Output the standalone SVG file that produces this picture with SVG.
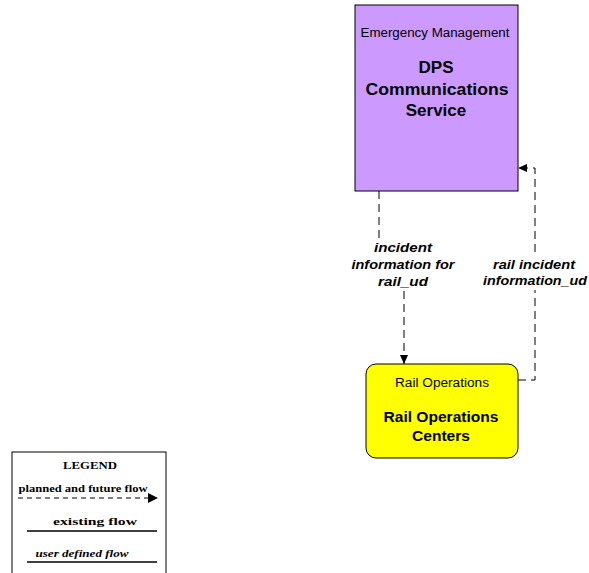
<svg xmlns="http://www.w3.org/2000/svg" width="589" height="573" viewBox="0 0 589 573">
<style>
.sub{font-family:"Liberation Sans",Arial,sans-serif;font-size:12px;fill:#000;text-anchor:middle}
.title{font-family:"Liberation Sans",Arial,sans-serif;font-weight:bold;fill:#000;text-anchor:middle}
.flow{fill:none;stroke:#000;stroke-width:1;stroke-dasharray:8,5}
.lbl{font-family:"Liberation Sans",Arial,sans-serif;font-size:13px;font-weight:bold;font-style:italic;fill:#000;text-anchor:middle}
.leg{font-family:"Liberation Serif","Times New Roman",serif;font-size:11px;font-weight:bold;fill:#000;text-anchor:middle}
</style>
<defs>
<marker id="arr" markerWidth="10" markerHeight="8" refX="9" refY="4" orient="auto" markerUnits="userSpaceOnUse">
<path d="M0,0 L9,4 L0,8 Z" fill="#000"/>
</marker>
</defs>
<rect width="589" height="573" fill="#fff"/>
<g id="dps">
<rect x="355" y="5" width="163" height="186" fill="#cc99ff" stroke="#000" stroke-width="1"/>
<text class="sub" x="435" y="37" textLength="149" lengthAdjust="spacingAndGlyphs">Emergency Management</text>
<text class="title" font-size="17" x="436" y="73">DPS</text>
<text class="title" font-size="17" x="437" y="95" textLength="143" lengthAdjust="spacingAndGlyphs">Communications</text>
<text class="title" font-size="17" x="436" y="116">Service</text>
</g>
<g id="rail">
<rect x="366" y="364" width="152" height="94" rx="10" ry="10" fill="#ffff00" stroke="#000" stroke-width="1"/>
<text class="sub" x="442" y="387" textLength="94" lengthAdjust="spacingAndGlyphs">Rail Operations</text>
<text class="title" font-size="15" x="441" y="422" textLength="115" lengthAdjust="spacingAndGlyphs">Rail Operations</text>
<text class="title" font-size="15" x="441" y="441" textLength="58" lengthAdjust="spacingAndGlyphs">Centers</text>
</g>
<g id="connectors">
<path class="flow" d="M379,191 L379,240"/>
<path class="flow" d="M404,291 L404,364" marker-end="url(#arr)"/>
<text class="lbl" x="403" y="252" textLength="58" lengthAdjust="spacingAndGlyphs">incident</text>
<text class="lbl" x="403" y="269" textLength="103" lengthAdjust="spacingAndGlyphs">information for</text>
<text class="lbl" x="403" y="286" textLength="50" lengthAdjust="spacingAndGlyphs">rail_ud</text>
<path class="flow" d="M518,380 L535,380 L535,290"/>
<path class="flow" d="M535,252 L535,168 L518,168" marker-end="url(#arr)"/>
<text class="lbl" x="534" y="269" textLength="82" lengthAdjust="spacingAndGlyphs">rail incident</text>
<text class="lbl" x="535" y="285" textLength="104" lengthAdjust="spacingAndGlyphs">information_ud</text>
</g>
<g id="legend">
<rect x="12" y="452" width="154" height="130" fill="#fff" stroke="#000" stroke-width="1"/>
<text class="leg" x="90" y="469" textLength="54" lengthAdjust="spacingAndGlyphs">LEGEND</text>
<text class="leg" x="83" y="492" textLength="129" lengthAdjust="spacingAndGlyphs">planned and future flow</text>
<path d="M18,498 L148,498" fill="none" stroke="#000" stroke-width="1" stroke-dasharray="5,4"/>
<path d="M148,493 L158,498 L148,503 Z" fill="#000"/>
<text class="leg" x="95" y="525" textLength="84" lengthAdjust="spacingAndGlyphs">existing flow</text>
<path d="M27,531 L157,531" stroke="#000" stroke-width="1.5"/>
<text class="leg" x="82" y="557" font-style="italic" textLength="93" lengthAdjust="spacingAndGlyphs">user defined flow</text>
<path d="M27,562 L157,562" stroke="#000" stroke-width="1.5"/>
</g>
</svg>
